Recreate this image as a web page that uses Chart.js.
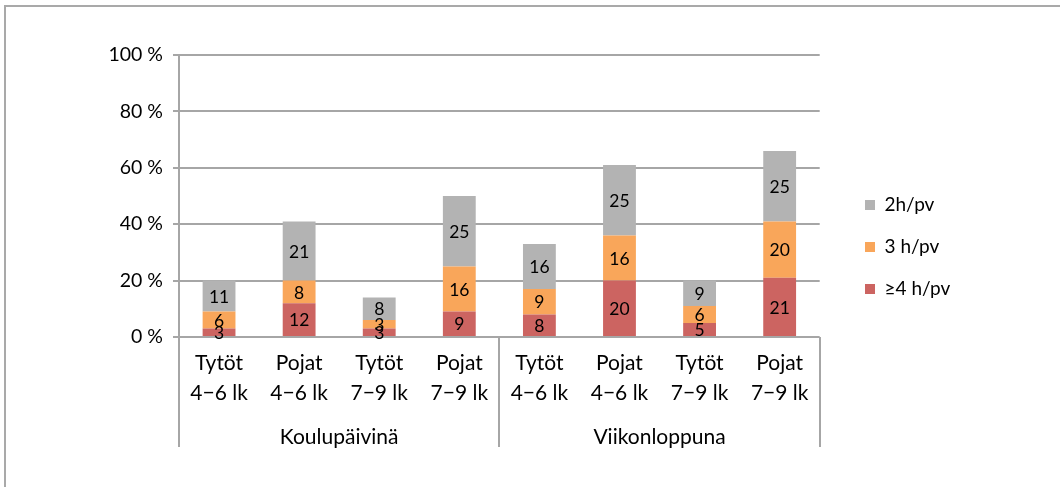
<!DOCTYPE html>
<html>
<head>
<meta charset="utf-8">
<script src="https://cdn.jsdelivr.net/npm/chart.js@4"></script>
<style>
  body { margin: 0; background: #fff; overflow: hidden; }
  #wrap { position: relative; width: 1060px; height: 487px; overflow: hidden; }
  #frame { position: absolute; left: 4px; top: 5px; width: 1100px; height: 520px;
           border-left: 2px solid #a9a9a9; border-top: 2px solid #a9a9a9; }
  canvas { position: absolute; left: 0; top: 0; }
</style>
</head>
<body>
<div id="wrap">
  <div id="frame"></div>
  <canvas id="chart" width="1060" height="487"></canvas>
</div>
<script>
const categories = [
  ['Tytöt', '4−6 lk'], ['Pojat', '4−6 lk'], ['Tytöt', '7−9 lk'], ['Pojat', '7−9 lk'],
  ['Tytöt', '4−6 lk'], ['Pojat', '4−6 lk'], ['Tytöt', '7−9 lk'], ['Pojat', '7−9 lk']
];
const groups = ['Koulupäivinä', 'Viikonloppuna'];
const groupSize = 4;

const over4h = [3, 12, 3, 9, 8, 20, 5, 21];
const h3 = [6, 8, 3, 16, 9, 16, 6, 20];
const h2 = [11, 21, 8, 25, 16, 25, 9, 25];

const yTicks = [0, 20, 40, 60, 80, 100];

const fontFamily = 'Lato, "Liberation Sans", sans-serif';
const lineGray = '#a6a6a6';

// value labels centred inside each stacked segment
const segmentLabels = {
  id: 'segmentLabels',
  afterDatasetsDraw(chart) {
    const ctx = chart.ctx;
    ctx.save();
    ctx.font = '17.5px ' + fontFamily;
    ctx.fillStyle = '#000';
    ctx.textAlign = 'center';
    ctx.textBaseline = 'middle';
    chart.data.datasets.forEach((ds, i) => {
      chart.getDatasetMeta(i).data.forEach((bar, j) => {
        const p = bar.getCenterPoint();
        ctx.fillText(String(ds.data[j]), p.x, p.y + 1);
      });
    });
    ctx.restore();
  }
};

// second level of the category axis: separators and group names
const groupAxis = {
  id: 'groupAxis',
  afterDraw(chart) {
    const ctx = chart.ctx;
    const x = chart.scales.x;
    const area = chart.chartArea;
    const bounds = [area.left];
    for (let g = 1; g < groups.length; g++) {
      const k = g * groupSize;
      bounds.push((x.getPixelForTick(k - 1) + x.getPixelForTick(k)) / 2);
    }
    bounds.push(area.right);
    ctx.save();
    ctx.strokeStyle = lineGray;
    ctx.lineWidth = 2;
    bounds.forEach(b => {
      ctx.beginPath();
      ctx.moveTo(Math.round(b), area.bottom);
      ctx.lineTo(Math.round(b), area.bottom + 110);
      ctx.stroke();
    });
    ctx.font = '21px ' + fontFamily;
    ctx.fillStyle = '#000';
    ctx.textAlign = 'center';
    ctx.textBaseline = 'middle';
    groups.forEach((name, g) => {
      ctx.fillText(name, (bounds[g] + bounds[g + 1]) / 2, area.bottom + 100);
    });
    ctx.restore();
  }
};

// move the legend block down beside the bars
const legendPlace = {
  id: 'legendPlace',
  afterLayout(chart) {
    const lg = chart.legend;
    const dy = 247 - (lg.top + lg.bottom) / 2;
    lg.top += dy;
    lg.bottom += dy;
    const dx = 842 - lg.left;
    lg.left += dx;
    lg.right += dx;
  }
};

new Chart(document.getElementById('chart'), {
  type: 'bar',
  data: {
    labels: categories,
    datasets: [
      { label: '≥4 h/pv', data: over4h, backgroundColor: '#cc6461' },
      { label: '3 h/pv', data: h3, backgroundColor: '#f9a65a' },
      { label: '2h/pv', data: h2, backgroundColor: '#b3b3b3' }
    ]
  },
  options: {
    responsive: false,
    animation: false,
    events: [],
    categoryPercentage: 1,
    barPercentage: 0.41,
    layout: { padding: { top: 55, right: 122, left: 0, bottom: 0 } },
    plugins: {
      legend: {
        position: 'right',
        reverse: true,
        labels: {
          boxWidth: 10,
          boxHeight: 10,
          padding: 23,
          color: '#000',
          font: { family: fontFamily, size: 19 }
        }
      },
      tooltip: { enabled: false }
    },
    scales: {
      x: {
        stacked: true,
        afterFit(scale) { scale.height = 150; },
        grid: { display: false },
        border: { display: false },
        ticks: {
          color: '#000',
          padding: 3,
          maxRotation: 0,
          font: { family: fontFamily, size: 21, lineHeight: 1.45 }
        }
      },
      y: {
        stacked: true,
        min: 0,
        max: 100,
        afterFit(scale) { scale.width = 179; },
        afterBuildTicks(scale) { scale.ticks = yTicks.map(v => ({ value: v })); },
        grid: { color: lineGray, lineWidth: 2, tickLength: 6 },
        border: { color: lineGray, width: 2 },
        ticks: {
          color: '#000',
          padding: 10,
          font: { family: fontFamily, size: 19.5 },
          callback: v => v + ' %'
        }
      }
    }
  },
  plugins: [segmentLabels, groupAxis, legendPlace]
});
</script>
</body>
</html>
